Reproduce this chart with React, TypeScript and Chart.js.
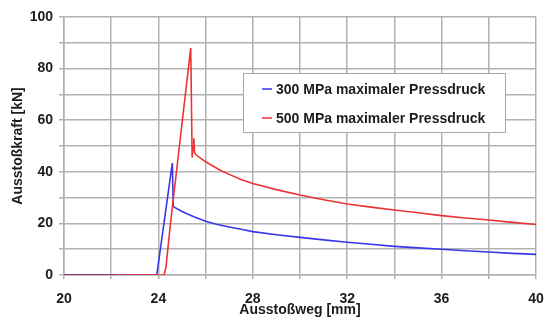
import React, { useEffect, useRef } from "react";
import { Chart, registerables } from "chart.js";

Chart.register(...registerables);

const blueX = [20, 23.93, 24.59, 24.63, 25, 25.5, 26, 26.5, 27, 27.5, 28, 29, 30, 31, 32, 33, 34, 35, 36, 37, 38, 39, 40];
const blueY = [0, 0, 43.4, 26.5, 24.6, 22.6, 20.8, 19.6, 18.6, 17.7, 16.8, 15.6, 14.6, 13.6, 12.7, 11.9, 11.1, 10.5, 10.0, 9.4, 8.9, 8.4, 8.0];

const redX = [20, 22.2, 24.24, 24.32, 24.5, 25.37, 25.43, 25.47, 25.5, 25.53, 25.6, 26, 26.6, 27, 27.5, 28, 29, 30, 31, 32, 33, 34, 35, 36, 37, 38, 39, 40];
const redY = [0, 0, 0, 3, 19, 88, 45.5, 50, 53, 47.5, 46.5, 43.9, 40.7, 39, 37, 35.5, 33.1, 31, 29.2, 27.5, 26.3, 25.2, 24.1, 23, 22.1, 21.3, 20.4, 19.6];

const legendLabels = ["300 MPa maximaler Pressdruck", "500 MPa maximaler Pressdruck"];
const xTitle = "Ausstoßweg [mm]";
const yTitle = "Ausstoßkraft [kN]";

const BLUE = "#3838ea";
const RED = "#ec3434";
const GRID = "#b2b2b2";
const TEXT = "#1c1c1c";
const FONT_FAMILY = "Arial, 'Liberation Sans', sans-serif";
const FS = 14;

const legendPlugin = {
  id: "boxLegend",
  afterDraw(chart: any) {
    const ctx = chart.ctx;
    ctx.save();
    const x0 = 243, y0 = 73, w = 262, h = 59;
    ctx.fillStyle = "#ffffff";
    ctx.fillRect(x0, y0, w, h);
    ctx.strokeStyle = "#a8a8a8";
    ctx.lineWidth = 1;
    ctx.strokeRect(x0 + 0.5, y0 + 0.5, w, h);
    const colors = [BLUE, RED];
    const ys = [89, 118];
    ctx.font = `bold ${FS}px ${FONT_FAMILY}`;
    ctx.textBaseline = "middle";
    ctx.textAlign = "left";
    for (let i = 0; i < 2; i++) {
      ctx.strokeStyle = colors[i];
      ctx.lineWidth = 1.5;
      ctx.beginPath();
      ctx.moveTo(262, ys[i]);
      ctx.lineTo(272, ys[i]);
      ctx.stroke();
      ctx.fillStyle = TEXT;
      ctx.fillText(legendLabels[i], 276, ys[i] + 1);
    }
    ctx.restore();
  },
};

export default function App() {
  const ref = useRef<HTMLCanvasElement | null>(null);
  useEffect(() => {
    document.body.style.margin = "0";
    const canvas = ref.current!;
    const chart = new Chart(canvas, {
      type: "line",
      data: {
        datasets: [
          {
            label: legendLabels[0],
            data: blueX.map((x, i) => ({ x, y: blueY[i] })),
            borderColor: BLUE,
            borderWidth: 1.6,
            pointRadius: 0,
            tension: 0,
            order: 1,
          },
          {
            label: legendLabels[1],
            data: redX.map((x, i) => ({ x, y: redY[i] })),
            borderColor: RED,
            borderWidth: 1.6,
            pointRadius: 0,
            tension: 0,
            order: 0,
            segment: {
              borderColor: (c: any) => (c.p0.parsed.x < 22.1 ? "#a02a55" : RED),
            },
          } as any,
        ],
      },
      options: {
        animation: false,
        responsive: false,
        maintainAspectRatio: false,
        layout: { padding: { top: 17, right: 8, left: 0, bottom: 0 } },
        plugins: { legend: { display: false }, tooltip: { enabled: false } },
        scales: {
          x: {
            type: "linear",
            min: 20,
            max: 40,
            afterFit: (s: any) => { s.height = 50; s.paddingLeft = 0; s.paddingRight = 0; },
            ticks: {
              stepSize: 2,
              autoSkip: false,
              maxRotation: 0,
              padding: 12,
              color: TEXT,
              font: { family: FONT_FAMILY, size: FS, weight: "bold" },
              callback: (v: any) => (Number(v) % 4 === 0 ? String(v) : ""),
            },
            grid: { color: GRID, tickLength: 4, lineWidth: 1.5 },
            border: { color: GRID, width: 1.5 },
            title: {
              display: true,
              text: xTitle,
              color: TEXT,
              font: { family: FONT_FAMILY, size: FS, weight: "bold" },
              padding: { top: 0, bottom: 6 },
            },
          },
          y: {
            type: "linear",
            min: 0,
            max: 100,
            afterFit: (s: any) => { s.width = 64; s.paddingTop = 0; s.paddingBottom = 0; },
            ticks: {
              stepSize: 10,
              autoSkip: false,
              padding: 6,
              color: TEXT,
              font: { family: FONT_FAMILY, size: FS, weight: "bold" },
              callback: (v: any) => (Number(v) % 20 === 0 ? String(v) : ""),
            },
            grid: { color: GRID, tickLength: 5, lineWidth: 1.5 },
            border: { color: GRID, width: 1.5 },
            title: {
              display: true,
              text: yTitle,
              color: TEXT,
              font: { family: FONT_FAMILY, size: FS, weight: "bold" },
              padding: { top: 10, bottom: 0 },
            },
          },
        },
      },
      plugins: [legendPlugin],
    } as any);
    return () => chart.destroy();
  }, []);
  return <canvas ref={ref} width={544} height={325} style={{ display: "block", width: 544, height: 325 }} />;
}
